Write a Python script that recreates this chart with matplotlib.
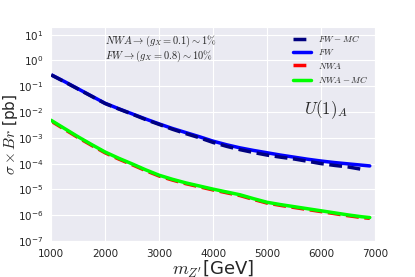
import numpy as np
import matplotlib
matplotlib.use("Agg")
import matplotlib.pyplot as plt
from matplotlib.font_manager import FontProperties
import seaborn as sns

sns.set_style("darkgrid")

# masses in GeV
mass = [1000, 1250, 1500, 1750, 2000, 2250, 2500, 2750, 3000, 3250, 3500, 3750, 4000,
        4250, 4500, 4750, 5000, 5250, 5500, 5750, 6000, 6250, 6500, 6750, 6900]
mass_mc = [1000, 1250, 1500, 1750, 2000, 2250, 2500, 2750, 3000, 3250, 3500, 3750, 4000,
           4250, 4500, 4750, 5000, 5250, 5500, 5750, 6000, 6250, 6500, 6750, 6800]

# log10 of sigma x Br [pb]
log_fw = [-0.55, -0.82, -1.10, -1.38, -1.66, -1.87, -2.07, -2.27, -2.46, -2.64, -2.80, -2.96, -3.13,
          -3.27, -3.39, -3.49, -3.58, -3.67, -3.75, -3.83, -3.90, -3.96, -4.01, -4.06, -4.09]
log_fw_mc = [-0.56, -0.83, -1.11, -1.39, -1.67, -1.88, -2.08, -2.29, -2.48, -2.67, -2.84, -3.00, -3.18,
             -3.33, -3.46, -3.57, -3.67, -3.75, -3.82, -3.91, -4.00, -4.07, -4.13, -4.22, -4.24]
log_nwa_mc = [-2.32, -2.64, -2.96, -3.26, -3.55, -3.79, -4.01, -4.24, -4.45, -4.61, -4.75, -4.87, -4.99,
              -5.10, -5.21, -5.36, -5.50, -5.59, -5.67, -5.75, -5.83, -5.91, -5.99, -6.06, -6.09]
log_nwa = [-2.35, -2.67, -2.99, -3.29, -3.58, -3.82, -4.04, -4.27, -4.48, -4.64, -4.78, -4.90, -5.02,
           -5.13, -5.24, -5.39, -5.53, -5.62, -5.70, -5.78, -5.86, -5.94, -6.02, -6.09, -6.12]

fig = plt.figure(figsize=(4.15, 2.77), dpi=100)
ax = fig.add_axes([0.123, 0.13, 0.781, 0.773])

ax.plot(mass_mc, 10**np.array(log_fw_mc), '--', color='#000080', lw=2.5, label='$FW-MC$', zorder=3)
ax.plot(mass, 10**np.array(log_fw), '-', color='#0000ff', lw=2.5, label='$FW$', zorder=2)
ax.plot(mass, 10**np.array(log_nwa), '--', color='#ff0000', lw=2.5, label='$NWA$', zorder=2)
ax.plot(mass, 10**np.array(log_nwa_mc), '-', color='#00ff00', lw=2.5, label='$NWA-MC$', zorder=3)

ax.set_yscale('log')
ax.set_xlim(1000, 7000)
ax.set_ylim(1e-7, 20)
ax.set_yticks([10.0**k for k in range(-7, 2)])
ax.minorticks_off()
ax.tick_params(labelsize=7.5, pad=2)

ax.set_xlabel("$m_{Z'}$[GeV]", fontsize=13, labelpad=0, math_fontfamily='cm')
ax.set_ylabel(r"$\sigma\times Br$ [pb]", fontsize=11, math_fontfamily='cm')
ax.yaxis.set_label_coords(-0.095, 0.5)

ax.text(2000, 2.8, r"$NWA \rightarrow (g_X=0.1) \sim 1\%$" + "\n" + r"$FW \rightarrow (g_X=0.8) \sim 10\%$",
        fontsize=7.5, va='center', ha='left', linespacing=1.0, math_fontfamily='cm')
ax.text(5680, 0.012, "$U(1)_A$", fontsize=12, va='center', ha='left', math_fontfamily='cm')

leg = ax.legend(loc='upper right', prop=FontProperties(size=6.5, math_fontfamily='cm'),
                frameon=False, handlelength=2.0, labelspacing=0.35, borderaxespad=0.3)

fig.savefig("out.png", dpi=100)
